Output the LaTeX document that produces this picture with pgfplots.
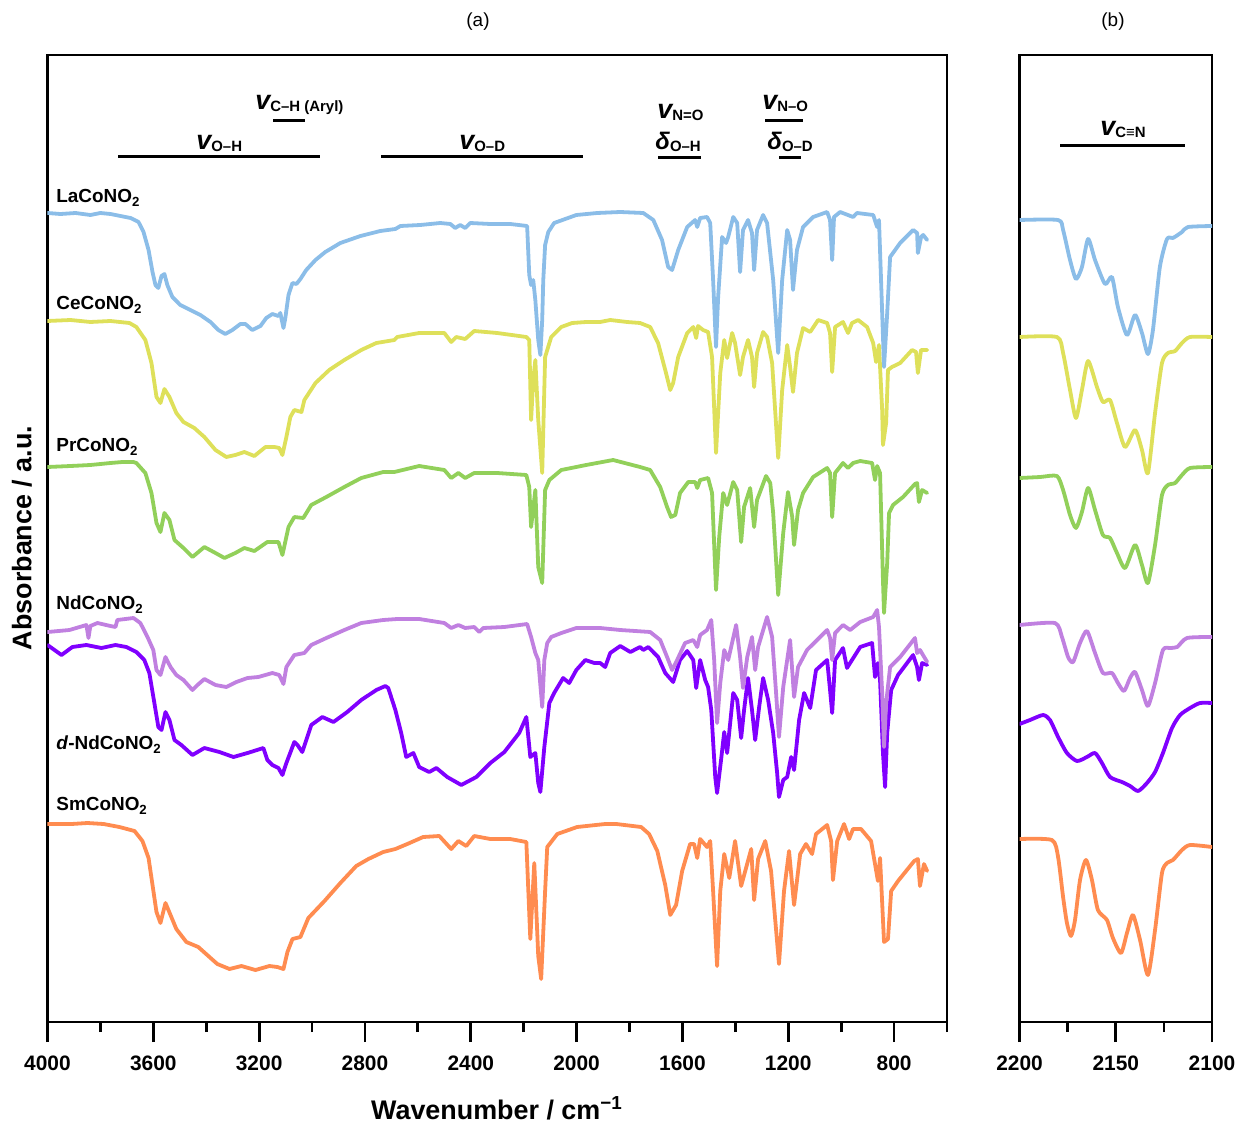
\documentclass[border=0pt]{standalone}
\usepackage{fontspec}
\setmainfont{Liberation Sans}
\usepackage{pgfplots}
\pgfplotsset{compat=1.18}
\definecolor{cLa}{RGB}{139,189,232}
\definecolor{cCe}{RGB}{222,224,90}
\definecolor{cPr}{RGB}{146,208,90}
\definecolor{cNd}{RGB}{192,128,224}
\definecolor{cdNd}{RGB}{128,0,255}
\definecolor{cSm}{RGB}{255,140,80}
\newcommand{\nuS}{{\fontsize{13.5}{14}\selectfont\bfseries\itshape v}}
\newcommand{\deS}{{\fontsize{12}{14}\selectfont\bfseries\itshape δ}}
\newcommand{\sbs}[1]{\raisebox{-1bp}{\fontsize{7.5}{9}\selectfont\bfseries #1}}
\newcommand{\lab}[1]{{\fontsize{9.5}{11}\selectfont\bfseries #1}}
\begin{document}
\begin{tikzpicture}
\path[use as bounding box] (-23.75bp,-50bp) rectangle (594.75bp,511bp);
\pgfplotsset{spec/.style={scale only axis, y dir=reverse, ymin=55, ymax=1022, x dir=reverse,
  ytick=\empty, xtick pos=left, tick align=outside, major tick length=10bp, minor tick length=5bp,
  tick style={black, line width=1.4bp}, axis line style={line width=1.2bp},
  ticklabel style={font=\fontsize{10.5}{12}\selectfont\bfseries},
  xticklabel style={yshift=-3.5bp},
  /pgf/number format/assume math mode=true, /pgf/number format/set thousands separator={},
  every axis plot/.append style={line width=1.9bp, line join=round, line cap=round, mark=none}}}
% ---------------- panel (a)
\begin{axis}[spec, at={(0bp,0bp)}, anchor=south west, width=449.75bp, height=483.5bp,
  xmin=600, xmax=4000, xtick={800,1200,...,4000}, minor xtick={600,1000,...,3800}]
% Sm
\addplot[cSm] coordinates {(4000,824)(3909,824)(3849,823)(3788,824)(3728,827)(3671,831)(3641,841)(3618,858)(3603,885)(3588,912)(3573,923)(3554,903)(3535,915)(3513,929)(3475,942)(3430,947)(3392,956)(3358,964)(3312,969)(3267,966)(3214,970)(3161,966)(3131,967)(3108,969)(3093,952)(3074,939)(3044,937)(3014,918)(2953,901)(2893,883)(2833,866)(2787,859)(2731,852)(2685,849)(2640,844)(2580,837)(2519,836)(2474,849)(2447,841)(2417,846)(2387,836)(2326,839)(2251,839)(2190,842)(2175,939)(2160,863)(2145,956)(2134,979)(2119,891)(2111,847)(2073,834)(1998,827)(1892,824)(1850,824)(1756,827)(1726,834)(1695,851)(1665,885)(1646,915)(1624,905)(1601,871)(1571,844)(1556,844)(1544,858)(1533,839)(1507,847)(1495,841)(1484,891)(1469,966)(1457,891)(1442,854)(1423,878)(1401,841)(1378,886)(1340,849)(1329,900)(1314,859)(1287,841)(1265,871)(1235,964)(1216,891)(1197,851)(1178,905)(1155,854)(1133,844)(1110,854)(1095,834)(1053,825)(1038,841)(1031,880)(1015,841)(989,824)(970,839)(955,829)(925,829)(887,841)(861,881)(853,858)(838,942)(823,939)(811,891)(785,881)(724,861)(710,859)(702,886)(687,864)(675,871)};
% d-Nd
\addplot[cdNd] coordinates {(4000,645)(3947,655)(3906,647)(3853,645)(3796,648)(3743,645)(3702,647)(3664,652)(3634,660)(3615,673)(3596,703)(3581,727)(3569,730)(3554,712)(3539,720)(3520,740)(3494,745)(3452,755)(3407,748)(3350,752)(3297,757)(3244,753)(3184,748)(3169,760)(3150,765)(3127,768)(3112,775)(3097,763)(3067,742)(3055,745)(3037,752)(3003,725)(2961,717)(2919,722)(2867,712)(2814,700)(2757,690)(2723,686)(2712,688)(2685,710)(2663,733)(2644,757)(2617,753)(2595,767)(2557,772)(2530,768)(2489,777)(2436,785)(2379,777)(2326,763)(2273,752)(2217,733)(2190,717)(2175,757)(2156,753)(2145,783)(2137,792)(2122,747)(2103,703)(2085,693)(2051,678)(2028,683)(2001,670)(1967,660)(1933,663)(1911,663)(1892,667)(1873,653)(1835,646)(1797,652)(1760,647)(1748,650)(1729,647)(1692,657)(1665,673)(1635,682)(1609,660)(1582,651)(1559,660)(1548,688)(1533,660)(1514,680)(1503,687)(1491,710)(1476,777)(1469,793)(1454,760)(1442,732)(1431,753)(1408,693)(1393,700)(1378,738)(1367,710)(1352,678)(1337,710)(1325,740)(1310,707)(1295,678)(1276,700)(1257,733)(1242,773)(1235,797)(1219,780)(1204,777)(1189,757)(1178,770)(1159,720)(1140,693)(1117,708)(1095,670)(1053,660)(1042,690)(1034,713)(1023,660)(993,648)(978,668)(959,660)(928,647)(883,643)(872,677)(861,663)(853,680)(842,753)(834,787)(826,733)(811,690)(785,675)(728,655)(713,667)(706,680)(694,663)(675,665)};
% Nd
\addplot[cNd] coordinates {(4000,632)(3917,630)(3853,625)(3845,638)(3838,626)(3811,623)(3762,626)(3743,627)(3736,620)(3675,618)(3649,623)(3622,637)(3600,650)(3588,670)(3573,675)(3554,657)(3535,667)(3513,675)(3486,680)(3452,690)(3433,685)(3407,679)(3365,685)(3324,687)(3286,682)(3244,678)(3203,677)(3150,673)(3124,675)(3108,684)(3097,667)(3067,655)(3029,653)(3003,645)(2946,638)(2878,630)(2814,623)(2731,620)(2678,619)(2595,619)(2500,623)(2474,628)(2447,625)(2421,628)(2387,627)(2368,632)(2353,628)(2273,627)(2187,624)(2172,637)(2156,653)(2145,660)(2130,707)(2122,660)(2111,643)(2096,637)(2058,633)(2001,628)(1911,628)(1835,630)(1722,632)(1684,640)(1658,657)(1639,670)(1620,660)(1590,643)(1559,640)(1544,647)(1533,635)(1507,630)(1491,620)(1480,660)(1469,723)(1457,683)(1442,650)(1427,660)(1397,625)(1382,657)(1371,688)(1355,657)(1337,637)(1325,670)(1314,647)(1280,617)(1261,637)(1246,693)(1235,737)(1219,687)(1193,640)(1178,697)(1163,667)(1129,650)(1091,640)(1053,630)(1042,638)(1034,660)(1023,633)(993,625)(966,630)(928,622)(879,617)(864,610)(857,627)(845,693)(838,747)(830,703)(815,667)(777,657)(721,638)(713,653)(702,650)(675,662)};
% Pr
\addplot[cPr] coordinates {(4000,467)(3913,466)(3838,465)(3762,463)(3717,462)(3675,462)(3664,463)(3630,473)(3607,493)(3588,523)(3573,532)(3558,513)(3539,520)(3520,540)(3486,548)(3452,557)(3407,547)(3365,553)(3331,558)(3290,553)(3256,548)(3218,551)(3169,542)(3127,542)(3112,555)(3089,527)(3067,517)(3033,518)(3003,505)(2946,497)(2878,487)(2814,478)(2731,472)(2689,472)(2595,466)(2500,470)(2474,478)(2447,473)(2421,478)(2387,473)(2300,473)(2190,475)(2179,487)(2172,527)(2156,490)(2145,567)(2130,583)(2119,490)(2103,480)(2058,470)(1964,465)(1862,460)(1760,467)(1722,470)(1684,487)(1658,507)(1643,517)(1627,515)(1609,493)(1578,482)(1552,482)(1544,488)(1533,480)(1503,478)(1488,493)(1473,590)(1461,537)(1446,493)(1431,505)(1408,482)(1393,490)(1378,542)(1367,507)(1344,488)(1329,527)(1318,500)(1284,476)(1268,483)(1257,513)(1238,595)(1219,533)(1201,492)(1185,517)(1178,545)(1163,510)(1144,493)(1106,477)(1053,468)(1042,473)(1034,517)(1023,473)(993,463)(974,468)(955,463)(928,461)(883,463)(872,480)(864,466)(853,473)(842,580)(838,613)(826,563)(819,513)(804,505)(766,497)(721,484)(713,483)(706,502)(694,490)(675,493)};
% Ce
\addplot[cCe] coordinates {(4000,321)(3913,320)(3838,322)(3762,321)(3690,323)(3664,327)(3630,340)(3607,363)(3588,397)(3573,403)(3558,389)(3539,397)(3513,413)(3486,422)(3445,428)(3407,437)(3365,450)(3324,457)(3290,455)(3256,452)(3218,456)(3176,447)(3142,447)(3124,448)(3112,455)(3097,437)(3082,417)(3067,410)(3040,412)(3029,400)(2987,383)(2935,370)(2878,360)(2814,350)(2757,343)(2689,340)(2678,337)(2595,333)(2500,333)(2474,342)(2455,337)(2421,339)(2387,331)(2300,333)(2190,337)(2179,340)(2172,420)(2164,380)(2156,360)(2145,420)(2130,473)(2119,357)(2096,337)(2058,327)(2017,323)(1964,322)(1911,322)(1873,320)(1809,322)(1760,323)(1722,327)(1692,343)(1665,370)(1646,390)(1635,383)(1616,357)(1582,333)(1559,327)(1548,338)(1541,326)(1522,330)(1503,332)(1488,357)(1473,453)(1457,373)(1442,340)(1431,358)(1412,333)(1401,343)(1382,375)(1371,357)(1352,340)(1337,357)(1329,387)(1318,353)(1295,332)(1280,337)(1261,363)(1238,458)(1223,390)(1204,345)(1193,367)(1182,392)(1167,353)(1144,328)(1117,332)(1087,320)(1053,323)(1042,333)(1034,372)(1023,327)(993,322)(974,333)(959,323)(936,320)(902,327)(879,343)(868,362)(857,345)(845,410)(842,445)(830,423)(823,370)(808,367)(777,363)(732,350)(717,352)(710,373)(698,350)(675,350)};
% La
\addplot[cLa] coordinates {(4000,213)(3951,214)(3894,213)(3838,215)(3800,213)(3762,214)(3724,216)(3686,218)(3656,222)(3637,232)(3618,250)(3603,272)(3592,285)(3581,288)(3569,276)(3558,274)(3547,285)(3528,297)(3498,305)(3460,310)(3422,315)(3384,322)(3354,330)(3328,334)(3301,330)(3271,324)(3252,324)(3226,330)(3195,326)(3173,318)(3150,314)(3127,316)(3120,313)(3108,328)(3101,318)(3089,295)(3074,283)(3059,284)(3044,279)(3022,270)(2987,260)(2950,252)(2893,243)(2817,236)(2742,231)(2685,229)(2666,226)(2591,225)(2515,223)(2477,224)(2459,228)(2440,225)(2421,228)(2402,223)(2326,224)(2251,224)(2187,226)(2179,275)(2172,285)(2164,280)(2156,300)(2145,340)(2137,355)(2130,320)(2126,280)(2119,245)(2107,232)(2085,223)(2001,215)(1922,213)(1835,212)(1748,213)(1710,220)(1677,240)(1654,267)(1639,270)(1616,250)(1582,227)(1552,220)(1544,227)(1533,218)(1507,217)(1495,223)(1484,280)(1473,347)(1465,297)(1450,237)(1435,243)(1427,237)(1408,217)(1393,223)(1382,272)(1371,230)(1352,220)(1337,233)(1329,270)(1318,230)(1295,215)(1280,223)(1257,280)(1238,353)(1223,280)(1204,230)(1193,240)(1182,290)(1167,250)(1144,227)(1106,217)(1053,212)(1042,220)(1034,260)(1027,217)(1004,212)(955,217)(940,213)(879,215)(864,227)(857,220)(845,313)(838,367)(826,313)(815,257)(777,243)(728,230)(713,233)(710,253)(698,237)(690,235)(675,240)};
\end{axis}
% ---------------- panel (b)
\begin{axis}[spec, at={(486.05bp,0bp)}, anchor=south west, width=96.2bp, height=483.5bp,
  xmin=2100, xmax=2200, xtick={2100,2150,2200}, minor xtick={2125,2175},
  every axis plot/.append style={smooth, tension=0.4}]
\addplot[cSm] coordinates {(2200,839)(2183.2,840)(2180.0,857)(2177.4,897)(2175.4,923)(2173.3,936)(2171.2,920)(2168.6,880)(2165.5,860)(2162.4,880)(2159.3,910)(2154.6,920)(2151.5,938)(2147.3,953)(2144.2,933)(2141.1,915)(2137.4,940)(2133.3,975)(2129.6,930)(2126.0,873)(2123.4,863)(2120.3,860)(2115.6,850)(2111.4,845)(2100,847)};
\addplot[cdNd] coordinates {(2200,724)(2194.6,720)(2187.8,715)(2184.2,720)(2180.0,737)(2175.4,753)(2170.2,761)(2165.0,757)(2160.8,753)(2157.2,763)(2153.0,777)(2146.8,782)(2142.6,786)(2138.4,791)(2133.8,783)(2129.6,772)(2125.5,753)(2120.8,728)(2116.6,715)(2111.4,708)(2106.2,703)(2100,703)};
\addplot[cNd] coordinates {(2200,625)(2181.6,623)(2178.0,637)(2174.8,657)(2172.2,662)(2168.6,643)(2165.0,631)(2160.8,653)(2156.7,673)(2152.0,673)(2148.9,683)(2145.7,691)(2142.6,678)(2140.0,672)(2136.4,690)(2133.3,706)(2129.6,683)(2125.5,650)(2121.8,648)(2118.1,647)(2113.0,638)(2100,637)};
\addplot[cPr] coordinates {(2200,478)(2189.3,477)(2180.6,476)(2177.4,490)(2173.8,515)(2170.7,528)(2167.6,512)(2164.4,488)(2160.8,510)(2156.7,535)(2153.0,538)(2149.4,553)(2145.2,568)(2140.0,545)(2136.4,565)(2133.3,583)(2129.6,545)(2126.0,495)(2122.9,485)(2119.2,483)(2115.6,475)(2111.4,468)(2100,467)};
\addplot[cCe] coordinates {(2200,337)(2180.6,337)(2177.4,353)(2173.8,390)(2170.7,418)(2167.6,390)(2164.4,361)(2159.8,387)(2156.7,402)(2153.0,400)(2149.4,423)(2145.2,447)(2140.0,430)(2136.4,450)(2133.3,473)(2129.6,413)(2126.0,363)(2122.9,353)(2119.2,351)(2115.6,343)(2111.4,337)(2100,337)};
\addplot[cLa] coordinates {(2200,220)(2180.0,220)(2177.4,230)(2173.8,260)(2170.7,279)(2167.6,267)(2164.4,239)(2160.8,260)(2155.6,284)(2152.0,277)(2148.9,307)(2144.2,335)(2140.0,315)(2136.4,333)(2133.3,354)(2130.7,330)(2127.1,267)(2123.4,239)(2120.3,238)(2115.6,232)(2112.5,227)(2100,226)};
\end{axis}
% ---------------- texts
\node at (215.25bp,500bp) {\fontsize{9.5}{11}\selectfont (a)};
\node at (532.75bp,500bp) {\fontsize{9.5}{11}\selectfont (b)};
\node[rotate=90] at (-12.75bp,242bp) {\fontsize{13.5}{15}\selectfont\bfseries Absorbance / a.u.};
\node at (224.75bp,-43bp) {\fontsize{13.5}{15}\selectfont\bfseries Wavenumber / cm\textsuperscript{−1}};
% series labels
\node[anchor=base west, inner sep=0pt] at (4.25bp,409.5bp) {\lab{LaCoNO\textsubscript{2}}};
\node[anchor=base west, inner sep=0pt] at (4.25bp,356bp) {\lab{CeCoNO\textsubscript{2}}};
\node[anchor=base west, inner sep=0pt] at (4.25bp,285bp) {\lab{PrCoNO\textsubscript{2}}};
\node[anchor=base west, inner sep=0pt] at (4.25bp,206bp) {\lab{NdCoNO\textsubscript{2}}};
\node[anchor=base west, inner sep=0pt] at (4.25bp,136bp) {\lab{\textit{d}-NdCoNO\textsubscript{2}}};
\node[anchor=base west, inner sep=0pt] at (4.25bp,105.5bp) {\lab{SmCoNO\textsubscript{2}}};
% annotations
\node[anchor=base west, inner sep=0pt] at (74.25bp,436bp) {\nuS\sbs{O–H}};
\draw[line width=1.5bp] (35.25bp,432.5bp) -- (136.25bp,432.5bp);
\node[anchor=base west, inner sep=0pt] at (103.75bp,456bp) {\nuS\sbs{C–H (Aryl)}};
\draw[line width=1.5bp] (112.75bp,450.5bp) -- (128.75bp,450.5bp);
\node[anchor=base west, inner sep=0pt] at (205.75bp,436bp) {\nuS\sbs{O–D}};
\draw[line width=1.5bp] (166.75bp,432.5bp) -- (267.75bp,432.5bp);
\node[anchor=base west, inner sep=0pt] at (304.75bp,451.5bp) {\nuS\sbs{N=O}};
\node[anchor=base west, inner sep=0pt] at (303.75bp,436bp) {\deS\sbs{O–H}};
\draw[line width=1.5bp] (305.25bp,432bp) -- (326.75bp,432bp);
\node[anchor=base west, inner sep=0pt] at (357.25bp,456bp) {\nuS\sbs{N–O}};
\draw[line width=1.5bp] (358.75bp,450.5bp) -- (377.75bp,450.5bp);
\node[anchor=base west, inner sep=0pt] at (359.75bp,436bp) {\deS\sbs{O–D}};
\draw[line width=1.5bp] (365.75bp,432bp) -- (376.75bp,432bp);
\node[anchor=base west, inner sep=0pt] at (526.25bp,443bp) {\nuS\sbs{C≡N}};
\draw[line width=1.5bp] (506.25bp,438bp) -- (568.75bp,438bp);
\end{tikzpicture}
\end{document}
